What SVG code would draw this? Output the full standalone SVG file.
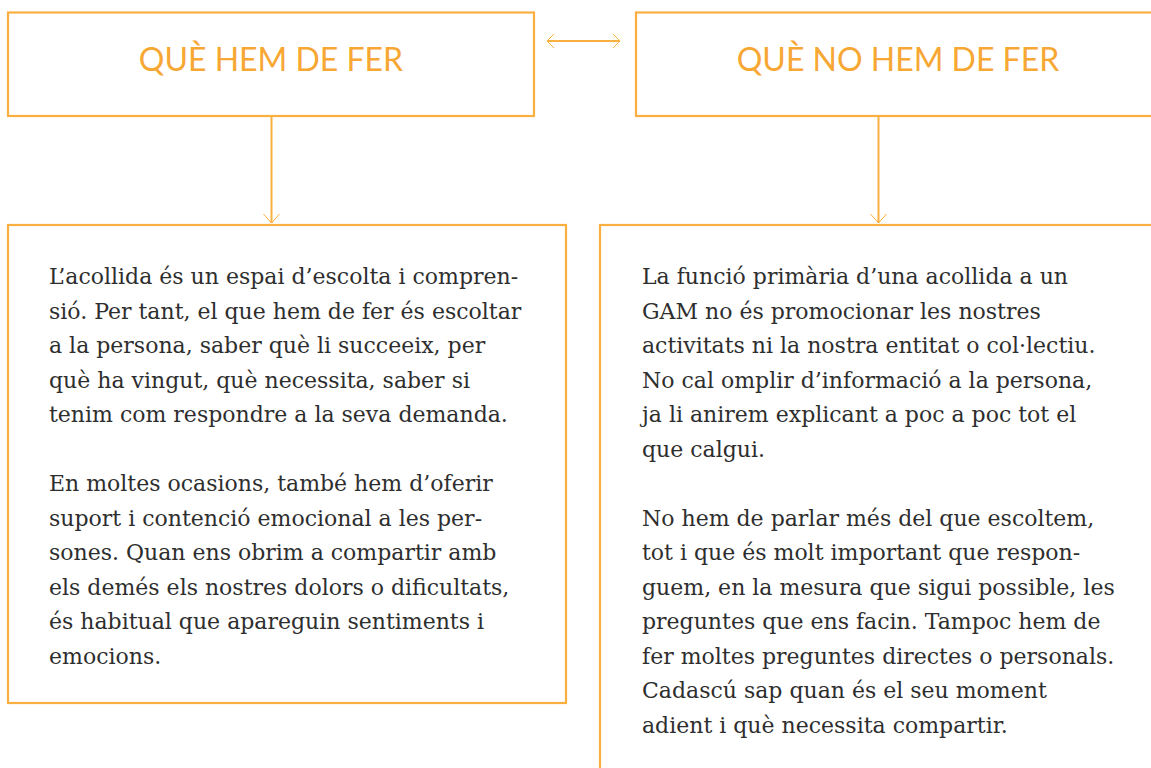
<svg xmlns="http://www.w3.org/2000/svg" width="1151" height="768" viewBox="0 0 1151 768">
<style>
.box{fill:#fff;stroke:#F9B040;stroke-width:2.2}
.title{font-family:Lato,"Liberation Sans",sans-serif;font-size:32px;fill:#F7A733;text-anchor:middle}
.body{font-family:"DejaVu Serif",serif;font-size:22px;fill:#2e2e2e}
.conn{stroke:#F9B040;stroke-width:2;fill:none}
.head{stroke:#F9B040;stroke-width:1;fill:none}
</style>
<rect width="1151" height="768" fill="#fff"/>
<g id="n1"><rect class="box" x="8" y="12.5" width="526" height="103.5"/><text class="title" x="271" y="71">QUÈ HEM DE FER</text></g>
<g id="n2"><rect class="box" x="636" y="12.5" width="530" height="103.5"/><text class="title" x="898" y="71">QUÈ NO HEM DE FER</text></g>
<g id="n3"><rect class="box" x="8" y="225" width="558" height="478"/>
<text class="body">
<tspan x="49" y="284">L’acollida és un espai d’escolta i compren-</tspan>
<tspan x="49" y="318.5">sió. Per tant, el que hem de fer és escoltar</tspan>
<tspan x="49" y="353">a la persona, saber què li succeeix, per</tspan>
<tspan x="49" y="387.5">què ha vingut, què necessita, saber si</tspan>
<tspan x="49" y="422">tenim com respondre a la seva demanda.</tspan>
<tspan x="49" y="491">En moltes ocasions, també hem d’oferir</tspan>
<tspan x="49" y="525.5">suport i contenció emocional a les per-</tspan>
<tspan x="49" y="560">sones. Quan ens obrim a compartir amb</tspan>
<tspan x="49" y="594.5">els demés els nostres dolors o dificultats,</tspan>
<tspan x="49" y="629">és habitual que apareguin sentiments i</tspan>
<tspan x="49" y="663.5">emocions.</tspan>
</text></g>
<g id="n4"><rect class="box" x="600" y="225" width="570" height="560"/>
<text class="body">
<tspan x="642" y="284">La funció primària d’una acollida a un</tspan>
<tspan x="642" y="318.5">GAM no és promocionar les nostres</tspan>
<tspan x="642" y="353">activitats ni la nostra entitat o col·lectiu.</tspan>
<tspan x="642" y="387.5">No cal omplir d’informació a la persona,</tspan>
<tspan x="642" y="422">ja li anirem explicant a poc a poc tot el</tspan>
<tspan x="642" y="456.5">que calgui.</tspan>
<tspan x="642" y="525.5">No hem de parlar més del que escoltem,</tspan>
<tspan x="642" y="560">tot i que és molt important que respon-</tspan>
<tspan x="642" y="594.5">guem, en la mesura que sigui possible, les</tspan>
<tspan x="642" y="629">preguntes que ens facin. Tampoc hem de</tspan>
<tspan x="642" y="663.5">fer moltes preguntes directes o personals.</tspan>
<tspan x="642" y="698">Cadascú sap quan és el seu moment</tspan>
<tspan x="642" y="732.5">adient i què necessita compartir.</tspan>
</text></g>
<g id="connectors">
<line class="conn" x1="547" y1="41" x2="620" y2="41" stroke-width="2.5"/>
<polyline class="head" points="554,34 547,41 554,48"/>
<polyline class="head" points="613,34 620,41 613,48"/>
<line class="conn" x1="271.5" y1="116" x2="271.5" y2="223"/>
<polyline class="head" points="263.5,214 271.5,223 279.5,214"/>
<line class="conn" x1="878.5" y1="116" x2="878.5" y2="223"/>
<polyline class="head" points="870.5,214 878.5,223 886.5,214"/>
</g>
</svg>
